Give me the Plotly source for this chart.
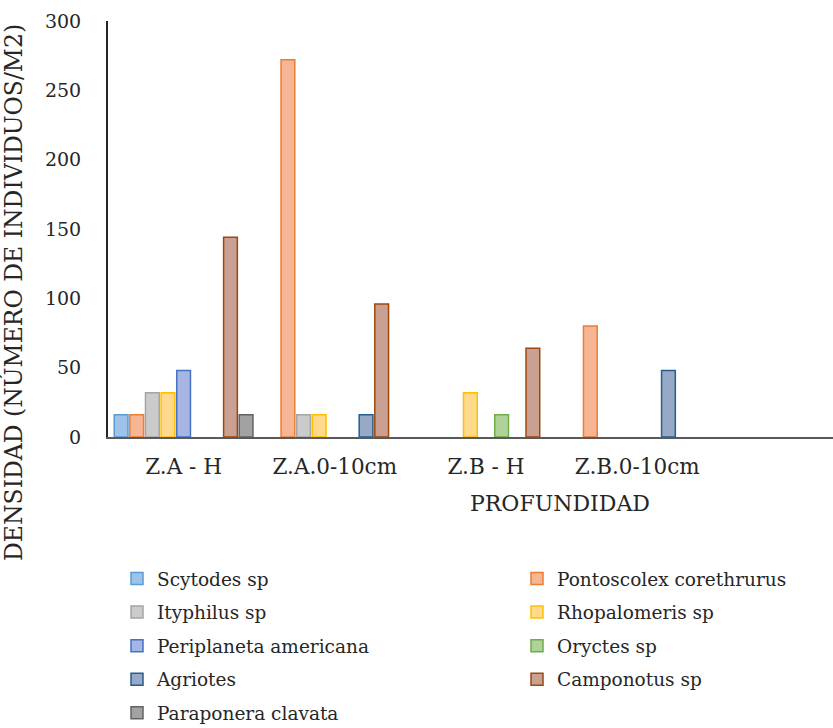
import plotly.graph_objects as go

# Sampling depths (categories on the x axis)
profundidades = ["Z.A - H", "Z.A.0-10cm", "Z.B - H", "Z.B.0-10cm"]

# Density per species (individuals / m2) for each depth; None = not recorded
scytodes = [16, None, None, None]
pontoscolex = [16, 272, None, 80]
ityphilus = [32, 16, None, None]
rhopalomeris = [32, 16, 32, None]
periplaneta = [48, None, None, None]
oryctes = [None, None, 16, None]
agriotes = [None, 16, None, 48]
camponotus = [144, 96, 64, None]
paraponera = [16, None, None, None]

y_ticks = [0, 50, 100, 150, 200, 250, 300]

# (name, values, fill, outline, legend column)
series = [
    ("Scytodes sp", scytodes, "#9EC3E8", "#5B9BD5", "legend"),
    ("Pontoscolex corethrurus", pontoscolex, "#F6B595", "#ED7D31", "legend2"),
    ("Ityphilus sp", ityphilus, "#CBCBCB", "#A5A5A5", "legend"),
    ("Rhopalomeris sp", rhopalomeris, "#FFD98C", "#FFC000", "legend2"),
    ("Periplaneta americana", periplaneta, "#A7B5E2", "#4472C4", "legend"),
    ("Oryctes sp", oryctes, "#AED29A", "#70AD47", "legend2"),
    ("Agriotes", agriotes, "#97A9C6", "#255E91", "legend"),
    ("Camponotus sp", camponotus, "#C9A092", "#9E480E", "legend2"),
    ("Paraponera clavata", paraponera, "#A2A2A2", "#636363", "legend"),
]

FONT = "DejaVu Serif"
TXT = "#262626"

# plot area in pixels
L, R, T, B = 108, 833, 21, 437
W, H = R - L, B - T


def px_x(x):
    return (x - L) / W


def px_y(y):
    return (B - y) / H


fig = go.Figure()
for name, vals, fill, edge, leg in series:
    fig.add_trace(go.Bar(
        name=name, x=profundidades, y=vals,
        marker=dict(color=fill, line=dict(color=edge, width=1.5)),
        legend=leg, legendgroup=name, hoverinfo="x+y+name",
    ))

legend_style = dict(
    xanchor="left", yanchor="top", orientation="v",
    font=dict(size=18.5, family=FONT, color=TXT), bgcolor="rgba(0,0,0,0)",
    borderwidth=0, tracegroupgap=6.5,
)

fig.update_layout(
    width=833, height=728,
    margin=dict(l=L, r=833 - R, t=T, b=728 - B, autoexpand=False),
    paper_bgcolor="white", plot_bgcolor="white",
    barmode="group", bargap=0.07, bargroupgap=0.12,
    font=dict(family=FONT, color=TXT),
    xaxis=dict(
        type="category", categoryorder="array", categoryarray=profundidades,
        range=[-0.5, 4.295], showgrid=False, zeroline=False,
        showline=True, linecolor="#595959", linewidth=2,
        ticks="", tickfont=dict(size=21.5, family=FONT, color=TXT),
        ticklabelstandoff=9, tickangle=0, automargin=False,
    ),
    yaxis=dict(
        range=[0, 300], tickvals=y_ticks, showgrid=False, zeroline=False,
        showline=True, linecolor="#262626", linewidth=2,
        ticks="", tickfont=dict(size=19, family=FONT, color=TXT),
        ticklabelstandoff=21, automargin=False,
    ),
    legend=dict(x=px_x(117), y=px_y(560), **legend_style),
    legend2=dict(x=px_x(517), y=px_y(560), **legend_style),
    showlegend=True,
    annotations=[
        dict(text="DENSIDAD (NÚMERO DE INDIVIDUOS/M2)", textangle=-90,
             xref="paper", yref="paper", x=px_x(13), y=px_y(293),
             xanchor="center", yanchor="middle", showarrow=False,
             font=dict(size=23.5, family=FONT, color=TXT)),
        dict(text="PROFUNDIDAD",
             xref="paper", yref="paper", x=px_x(560), y=px_y(503),
             xanchor="center", yanchor="middle", showarrow=False,
             font=dict(size=22, family=FONT, color=TXT)),
    ],
)

fig.write_html("out.html")
